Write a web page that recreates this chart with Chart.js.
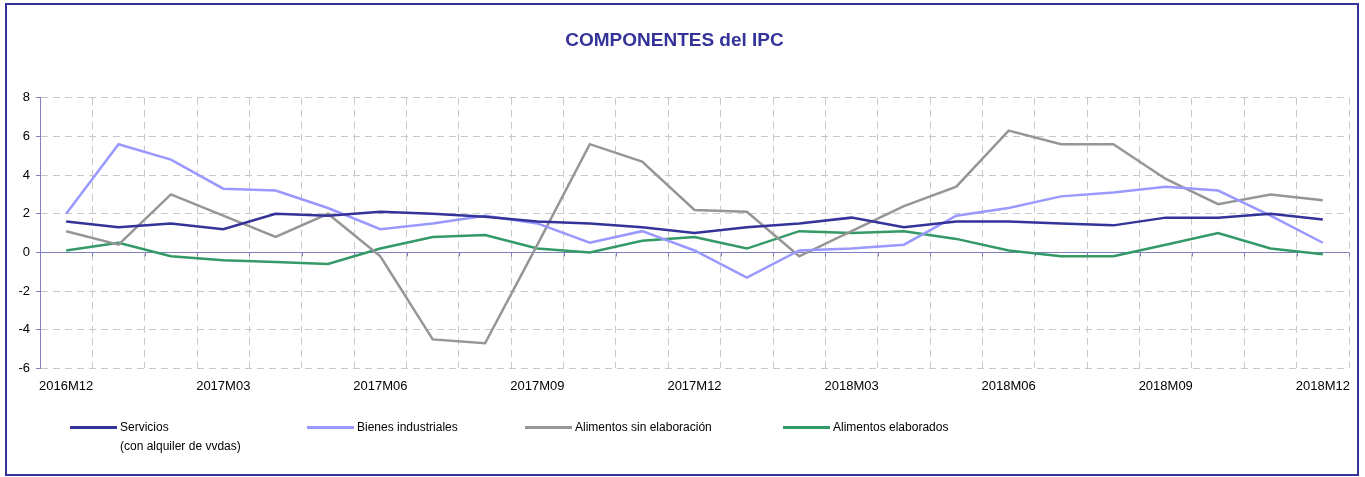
<!DOCTYPE html>
<html>
<head>
<meta charset="utf-8">
<title>COMPONENTES del IPC</title>
<script src="https://cdn.jsdelivr.net/npm/chart.js@4.4.1/dist/chart.umd.min.js"></script>
<style>
  body { margin: 0; background: #fff; font-family: "Liberation Sans", Arial, sans-serif; }
  #wrap { position: relative; width: 1365px; height: 477px; }
  #frame { position: absolute; left: 5px; top: 3px; width: 1354px; height: 473px;
           border: 2px solid #333399; box-sizing: border-box; pointer-events: none; }
  .leg { position: absolute; top: 418px; font-size: 12px; line-height: 19px; color: #000; white-space: pre-line; }
  .leg .swatch { position: absolute; left: 0; top: 8px; width: 47px; height: 3px; }
  .leg .txt { display: block; margin-left: 50px; }
</style>
</head>
<body>
<div id="wrap">
  <canvas id="myChart" width="1365" height="477"></canvas>
  <div id="frame"></div>
</div>
<script>
/* data */
const months = ['2016M12', '2017M01', '2017M02', '2017M03', '2017M04', '2017M05', '2017M06',
  '2017M07', '2017M08', '2017M09', '2017M10', '2017M11', '2017M12',
  '2018M01', '2018M02', '2018M03', '2018M04', '2018M05', '2018M06',
  '2018M07', '2018M08', '2018M09', '2018M10', '2018M11', '2018M12'];

const servicios = [1.6, 1.3, 1.5, 1.2, 2.0, 1.9, 2.1, 2.0, 1.85, 1.6, 1.5, 1.3, 1.0,
  1.3, 1.5, 1.8, 1.3, 1.6, 1.6, 1.5, 1.4, 1.8, 1.8, 2.0, 1.7];
const bienes = [2.0, 5.6, 4.8, 3.3, 3.2, 2.3, 1.2, 1.5, 1.9, 1.5, 0.5, 1.1, 0.1,
  -1.3, 0.1, 0.2, 0.4, 1.9, 2.3, 2.9, 3.1, 3.4, 3.2, 1.9, 0.5];
const sinElaborar = [1.1, 0.4, 3.0, 1.9, 0.8, 2.0, -0.2, -4.5, -4.7, 0.4, 5.6, 4.7, 2.2,
  2.1, -0.2, 1.1, 2.4, 3.4, 6.3, 5.6, 5.6, 3.8, 2.5, 3.0, 2.7];
const elaborados = [0.1, 0.5, -0.2, -0.4, -0.5, -0.6, 0.2, 0.8, 0.9, 0.2, 0.0, 0.6, 0.8,
  0.2, 1.1, 1.0, 1.1, 0.7, 0.1, -0.2, -0.2, 0.4, 1.0, 0.2, -0.1];

const seriesNames = ['Servicios\n(con alquiler de vvdas)', 'Bienes industriales',
  'Alimentos sin elaboración', 'Alimentos elaborados'];
const seriesColors = ['#333399', '#9999ff', '#969696', '#339966'];
const legendLeft = [70, 307, 525, 783];

// small tick marks along the zero line, at the category borders
const zeroTicks = {
  id: 'zeroTicks',
  beforeDatasetsDraw(chart) {
    const x = chart.scales.x, y = chart.scales.y;
    const y0 = y.getPixelForValue(0);
    const step = (x.right - x.left) / months.length;
    const c = chart.ctx;
    c.save();
    c.strokeStyle = '#8080c0';
    c.lineWidth = 1;
    c.beginPath();
    for (let k = 0; k <= months.length; k++) {
      const px = Math.round(x.left + k * step) + 0.5;
      c.moveTo(px, y0);
      c.lineTo(px, y0 + 4);
    }
    c.stroke();
    c.restore();
  }
};

const allSeries = [servicios, bienes, sinElaborar, elaborados];

const ctx = document.getElementById('myChart').getContext('2d');
const chart = new Chart(ctx, {
  type: 'line',
  data: {
    labels: months,
    datasets: allSeries.map((vals, i) => ({
      label: seriesNames[i],
      data: vals,
      borderColor: seriesColors[i],
      backgroundColor: seriesColors[i],
      borderWidth: 2.5,
      pointRadius: 0,
      tension: 0,
      fill: false
    }))
  },
  options: {
    responsive: false,
    animation: false,
    layout: { padding: { left: 0, right: 16, top: 0, bottom: 73 } },
    plugins: {
      legend: { display: false },
      tooltip: { enabled: false },
      title: {
        display: true,
        text: 'COMPONENTES del IPC',
        color: '#333399',
        font: { family: '"Liberation Sans", Arial, sans-serif', size: 19, weight: 'bold' },
        padding: { top: 29, bottom: 46 }
      }
    },
    scales: {
      x: {
        offset: true,
        grid: { offset: true, color: '#c8c8c8', drawTicks: false },
        border: { display: false, dash: [7, 5] },
        ticks: {
          autoSkip: false,
          maxRotation: 0,
          padding: 10,
          color: '#000',
          font: { family: '"Liberation Sans", Arial, sans-serif', size: 13 },
          callback: function(v, i) { return i % 3 === 0 ? months[i] : ''; }
        }
      },
      y: {
        min: -6,
        max: 8,
        afterFit(scale) { scale.width = 40; },
        grid: {
          color: c => (c.tick && c.tick.value === 0) ? '#8080c0' : '#c8c8c8',
          tickColor: '#8080c0',
          tickLength: 4
        },
        border: {
          color: '#8080c0',
          dash: c => (c.tick && c.tick.value === 0) ? [] : [7, 5]
        },
        ticks: {
          stepSize: 2,
          padding: 6,
          color: '#000',
          font: { family: '"Liberation Sans", Arial, sans-serif', size: 13 }
        }
      }
    }
  },
  plugins: [zeroTicks]
});

// legend built from the same names and colours
const wrap = document.getElementById('wrap');
seriesNames.forEach((name, i) => {
  const d = document.createElement('div');
  d.className = 'leg';
  d.style.left = legendLeft[i] + 'px';
  const sw = document.createElement('span');
  sw.className = 'swatch';
  sw.style.background = seriesColors[i];
  const t = document.createElement('span');
  t.className = 'txt';
  t.textContent = name;
  d.appendChild(sw);
  d.appendChild(t);
  wrap.appendChild(d);
});
</script>
</body>
</html>
